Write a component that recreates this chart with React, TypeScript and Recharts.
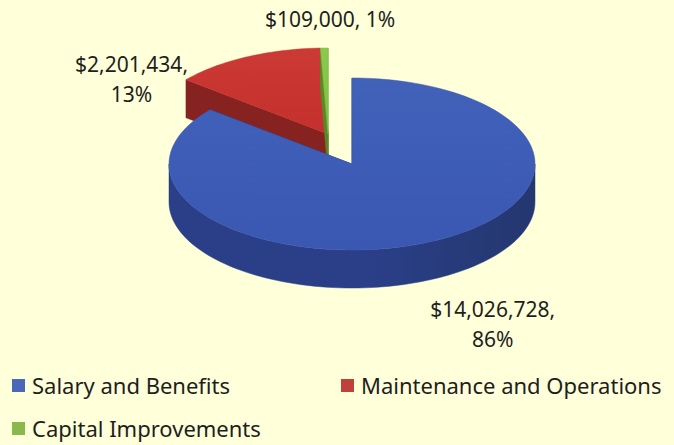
import { PieChart, Pie, Legend } from "recharts";

// budget split
const CATEGORIES = ["Salary and Benefits", "Maintenance and Operations", "Capital Improvements"];
const VALUES = [14026728, 2201434, 109000];
const EXPLODED = [false, true, true];

const TOP_COLORS = ["#3a57b2", "#c4302d", "#7fbf3f"];
const TOP_LIGHT = ["#4262ba", "#cc3a35", "#8cc84c"];
const SIDE_COLORS = ["#2a3f88", "#86221f", "#568a28"];
const LEGEND_COLORS = ["#4a67b8", "#c0403b", "#8ab84a"];

const BG = "#ffffd9";
const FONT = "'Noto Sans', 'Open Sans', sans-serif";

const W = 674;
const H = 445;
const TILT = 0.47; // vertical squash of the 3d pie
const DEPTH = 38;
const EXPLODE_DX = -24;
const EXPLODE_DY = -30;
const RAD = Math.PI / 180;

const total = VALUES.reduce((a, b) => a + b, 0);
// salary starts at 12 o'clock going clockwise, but is drawn last so it sits in front
const START_ANGLE = 90 - (360 * VALUES[0]) / total;
const DRAW_ORDER = [1, 2, 0];

const data = DRAW_ORDER.map((i) => ({ name: CATEGORIES[i], value: VALUES[i], idx: i }));

const fmtMoney = (v: number) => "$" + v.toLocaleString("en-US");

function geom(props: any) {
  const idx = props.idx ?? props.payload?.idx ?? 0;
  const ox = EXPLODED[idx] ? EXPLODE_DX : 0;
  const oy = EXPLODED[idx] ? EXPLODE_DY : 0;
  const rx = props.outerRadius;
  const ry = props.outerRadius * TILT;
  const cx = props.cx + ox;
  const cy = props.cy + oy;
  const pt = (a: number, dy = 0) => [cx + rx * Math.cos(a * RAD), cy - ry * Math.sin(a * RAD) + dy];
  return { idx, rx, ry, cx, cy, pt };
}

function arcPoints(pt: any, a0: number, a1: number, dy = 0) {
  const n = Math.max(2, Math.ceil(Math.abs(a1 - a0) / 2));
  const out: number[][] = [];
  for (let k = 0; k <= n; k++) out.push(pt(a0 + ((a1 - a0) * k) / n, dy));
  return out;
}

const toPath = (pts: number[][]) =>
  pts.map((p, i) => `${i ? "L" : "M"}${p[0].toFixed(2)},${p[1].toFixed(2)}`).join(" ") + " Z";

function Slice3D(props: any) {
  const { startAngle, endAngle } = props;
  const { idx, cx, cy, pt } = geom(props);
  const side = SIDE_COLORS[idx];
  const top = TOP_COLORS[idx];

  // cut faces
  const faces = [startAngle, endAngle].map((a) =>
    toPath([[cx, cy], pt(a), pt(a, DEPTH), [cx, cy + DEPTH]])
  );

  // outer wall, only where it faces the viewer
  const lo = Math.min(startAngle, endAngle);
  const hi = Math.max(startAngle, endAngle);
  const walls: string[] = [];
  for (let k = -3; k <= 3; k++) {
    const a0 = Math.max(lo, -180 + 360 * k);
    const a1 = Math.min(hi, 360 * k);
    if (a1 > a0) {
      walls.push(toPath([...arcPoints(pt, a0, a1), ...arcPoints(pt, a1, a0, DEPTH)]));
    }
  }

  const topPath = toPath([[cx, cy], ...arcPoints(pt, startAngle, endAngle)]);

  return (
    <g>
      {faces.map((d, i) => (
        <path key={"f" + i} d={d} fill={side} stroke={side} strokeWidth={0.5} />
      ))}
      {walls.map((d, i) => (
        <path key={"w" + i} d={d} fill={`url(#wall${idx})`} stroke={side} strokeWidth={0.5} />
      ))}
      <path d={topPath} fill={`url(#top${idx})`} stroke={top} strokeWidth={0.5} />
    </g>
  );
}

function SliceLabel(props: any) {
  const { midAngle, percent, value } = props;
  const { idx, rx, ry, cx, cy } = geom(props);
  const c = Math.cos(midAngle * RAD);
  const s = Math.sin(midAngle * RAD);
  const ex = cx + rx * c;
  const ey = cy - ry * s + (s < 0 ? DEPTH : 0);
  const money = fmtMoney(value) + ",";
  const pct = Math.round(percent * 100) + "%";
  const lines = (money + " " + pct).length > 13 ? [money, pct] : [money + " " + pct];
  const lh = 30;
  const fs = 21;
  const blockW = Math.max(...lines.map((l) => l.length)) * fs * 0.54;

  let x: number;
  let yTop: number;
  if (c < -0.2) {
    x = ex - 52 - blockW / 2;
    yTop = ey + 22 - (lines.length * lh) / 2;
  } else if (c > 0.2) {
    x = ex + blockW / 2 - 6;
    yTop = ey + 14;
  } else {
    x = ex + 6;
    yTop = ey - 14 - lines.length * lh;
  }

  return (
    <text x={x} y={yTop} textAnchor="middle" fill="#1e1e1e" fontSize={fs} fontFamily={FONT} key={"lbl" + idx}>
      {lines.map((l, i) => (
        <tspan key={i} x={x} dy={i === 0 ? 23 : lh}>
          {l}
        </tspan>
      ))}
    </text>
  );
}

function LegendBox() {
  const pos = [
    { left: 12, top: 0 },
    { left: 341, top: 0 },
    { left: 12, top: 43 },
  ];
  return (
    <div style={{ position: "relative", width: W, height: 70, fontFamily: FONT }}>
      {CATEGORIES.map((name, i) => (
        <div
          key={name}
          style={{
            position: "absolute",
            left: pos[i].left,
            top: pos[i].top,
            height: 26,
            display: "flex",
            alignItems: "center",
            fontSize: 22,
            lineHeight: "26px",
            color: "#1e1e1e",
            whiteSpace: "nowrap",
          }}
        >
          <span style={{ display: "inline-block", width: 13, height: 13, background: LEGEND_COLORS[i], marginRight: 7 }} />
          {name}
        </div>
      ))}
    </div>
  );
}

export default function App() {
  return (
    <div style={{ width: W, height: H, background: BG, position: "relative", overflow: "hidden" }}>
      <style>{"body{margin:0}"}</style>
      <PieChart width={W} height={H} margin={{ top: 0, right: 0, bottom: 0, left: 0 }}>
        <defs>
          {TOP_COLORS.map((c, i) => (
            <linearGradient key={"t" + i} id={`top${i}`} x1="0" y1="0" x2="0" y2="1">
              <stop offset="0%" stopColor={TOP_LIGHT[i]} />
              <stop offset="100%" stopColor={c} />
            </linearGradient>
          ))}
          {SIDE_COLORS.map((c, i) => (
            <linearGradient key={"w" + i} id={`wall${i}`} x1="0" y1="0" x2="1" y2="0">
              <stop offset="0%" stopColor={c} />
              <stop offset="55%" stopColor={c} />
              <stop offset="100%" stopColor="#24376f" />
            </linearGradient>
          ))}
        </defs>
        <Pie
          data={data}
          dataKey="value"
          nameKey="name"
          cx={352}
          cy={164}
          innerRadius={0}
          outerRadius={183}
          startAngle={START_ANGLE}
          endAngle={START_ANGLE - 360}
          stroke="none"
          shape={Slice3D}
          activeShape={Slice3D}
          inactiveShape={Slice3D}
          label={SliceLabel}
          labelLine={false}
          isAnimationActive={false}
        />
        <Legend
          content={() => <LegendBox />}
          wrapperStyle={{ position: "absolute", left: 0, top: 372, width: W }}
        />
      </PieChart>
    </div>
  );
}
